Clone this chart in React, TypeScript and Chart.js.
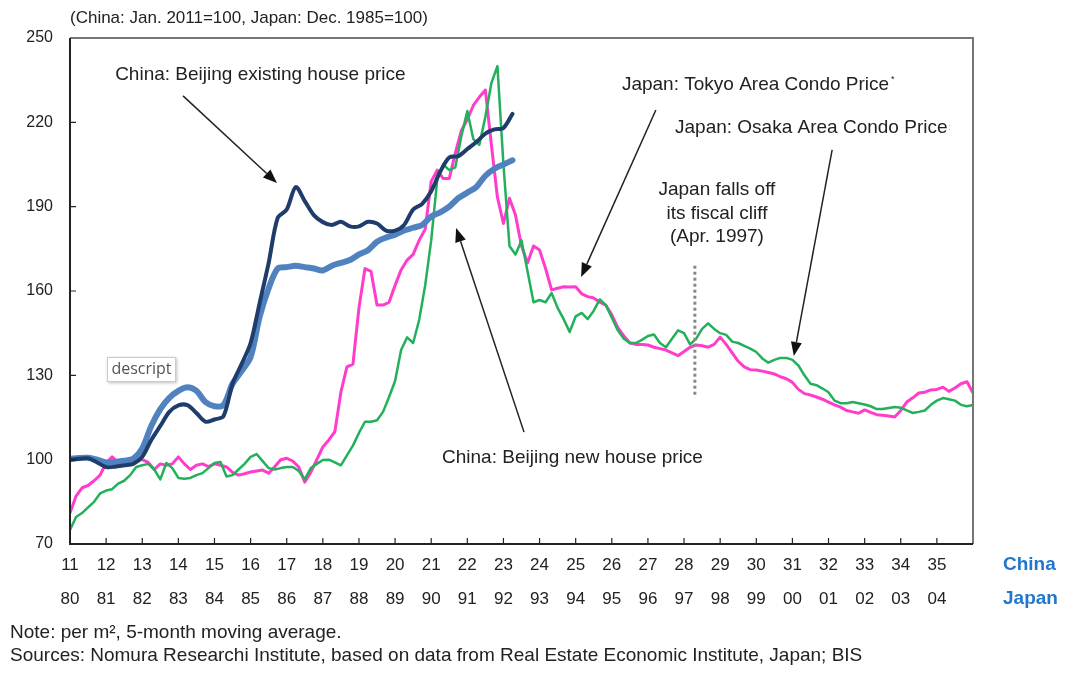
import React, { useEffect, useRef } from "react";
import { Chart, registerables } from "chart.js";
Chart.register(...registerables);

// ---------- data ----------
const chinaYearLabels = ["11","12","13","14","15","16","17","18","19","20","21","22","23","24","25","26","27","28","29","30","31","32","33","34","35"];
const japanYearLabels = ["80","81","82","83","84","85","86","87","88","89","90","91","92","93","94","95","96","97","98","99","00","01","02","03","04"];

// China series: quarterly from Jan 2011 (index 100 = Jan 2011)
const chinaStepYears = 0.25;
const beijingExisting = [
  100, 100.3, 100.5, 99, 97.4, 97.5, 98, 98.5, 101, 107,
  112, 117, 119.3, 119.4, 116.6, 113.5, 114.3, 115.5, 127, 134,
  141.5, 155.7, 170, 186, 189, 197, 192, 187, 184.5, 183.5,
  184.6, 183, 183, 184.6, 184, 181.5, 181.5, 183.5, 189, 191,
  195.5, 202.5, 207.5, 208, 210.5, 213, 216, 217.5, 218, 223,
];
const beijingNew = [
  100.3, 100.6, 100.7, 100, 99, 99.2, 99.6, 100.3, 104, 112,
  118, 122, 124.5, 125.8, 124.5, 120.5, 119, 119.5, 127, 131.5,
  136.5, 150.8, 161, 168, 168.5, 169, 168.5, 168, 167.3, 169,
  170, 171, 173, 174.5, 177.5, 179, 180, 181.5, 182.5, 183.5,
  186.5, 188, 190, 193, 195, 197, 201, 203.5, 205, 206.5,
];

// Japan series: bi-monthly from Jan 1980 (index 100 = Dec 1985)
const japanStepYears = 1 / 6;
const tokyoCondo = [
  81, 87, 90, 90.8, 92.5, 94.5, 98.8, 101, 99, 100,
  100, 100, 100, 99, 96.5, 98.5, 98, 98.5, 101, 98.5,
  96.5, 98, 98.5, 97.5, 98.5, 98, 97.4, 95.5, 94.5, 95,
  95.6, 96, 96.3, 95.2, 97.5, 100, 100.5, 99.5, 97.4, 92,
  95.5, 100, 104.5, 107, 110, 124, 133, 134, 154, 168,
  167, 155, 155, 156, 162, 167.5, 171, 173, 178, 182,
  199, 203, 200, 200, 209, 217, 221, 226, 229, 231.5,
  212, 193.4, 184, 193, 187, 176, 170, 176, 174.6, 168,
  160.4, 161, 161.5, 161.4, 161.5, 159, 158, 157.5, 156, 155,
  151.5, 147, 144, 141.5, 141, 141, 140.8, 140, 139.5, 139,
  138, 137, 138.5, 140, 140.8, 140.5, 140, 141, 143.6, 141,
  138, 135, 133, 132, 131.9, 131.5, 131, 130.5, 129.5, 128.8,
  127.5, 125, 123.5, 123, 122.3, 121.5, 120.5, 119.5, 118.7, 117.5,
  117, 116.5, 117.7, 116.8, 116, 115.8, 115.5, 115.2, 117.5, 120.5,
  122, 123.7, 124, 124.8, 125, 125.8, 124.3, 125.5, 127, 127.7, 123.7,
];
const osakaCondo = [
  75, 79.6, 81, 83, 85, 88, 89, 89.5, 91.5, 92.5,
  94.5, 97.4, 98, 98.5, 96.5, 93, 98.8, 97, 93.5, 93.2,
  93.5, 94.5, 95.2, 97, 98.8, 99.2, 94, 94.5, 96.5, 98.5,
  101, 102, 99.5, 97, 96.5, 97, 97.4, 97.4, 96, 93,
  97, 98.5, 99.9, 100, 99, 98, 101.5, 105, 109.5, 113.5,
  113.5, 114, 117, 122.3, 128, 139, 143.5, 141.5, 149.7, 162,
  178, 199.5, 205, 203, 204, 215, 224, 214, 212, 222,
  234, 240, 205, 176, 173, 178, 167, 156, 156.8, 156,
  159.3, 154, 150, 145.4, 151, 152.2, 150, 153, 157, 155,
  150.5, 146, 143, 141.5, 141.5, 142.6, 144, 144.5, 141.5, 140,
  143, 146, 145, 141, 143, 146.5, 148.5, 146.5, 145, 144.4,
  142, 141.5, 140.5, 139.5, 138.3, 136, 134.5, 135.5, 136.2, 136.2,
  135.5, 133.5, 130, 127, 126.5, 125.3, 124, 121, 120.1, 120.1,
  120.5, 120.1, 119.6, 119, 118, 118, 118.4, 118.7, 118.5, 117.5,
  116.6, 117, 117.5, 119.5, 121, 121.9, 121.5, 121, 119.5, 119, 119.5,
];

const yMin = 70;
const yMax = 250;
const yStep = 30;
const xYears = 25;
const fiscalCliffYear = 17.3; // Apr. 1997 on the Japan time axis
const fiscalCliffRange = [122, 169];

const FONT = "'Liberation Sans', Arial, sans-serif";
const NARROW = "'Liberation Sans Narrow', 'Arial Narrow', 'Liberation Sans', Arial, sans-serif";

const toPoints = (arr: number[], step: number) => arr.map((v, i) => ({ x: i * step, y: v }));

function drawArrow(ctx: CanvasRenderingContext2D, x1: number, y1: number, x2: number, y2: number) {
  const ang = Math.atan2(y2 - y1, x2 - x1);
  const hl = 14, hw = 5.5;
  const bx = x2 - hl * Math.cos(ang), by = y2 - hl * Math.sin(ang);
  ctx.beginPath();
  ctx.moveTo(x1, y1);
  ctx.lineTo(bx, by);
  ctx.stroke();
  ctx.beginPath();
  ctx.moveTo(x2, y2);
  ctx.lineTo(bx + hw * Math.sin(ang), by - hw * Math.cos(ang));
  ctx.lineTo(bx - hw * Math.sin(ang), by + hw * Math.cos(ang));
  ctx.closePath();
  ctx.fill();
}

const overlayPlugin = {
  id: "overlay",
  afterDatasetsDraw(chart: any) {
    const { ctx, scales } = chart;
    const X = (t: number) => scales.x.getPixelForValue(t);
    const Y = (v: number) => scales.y.getPixelForValue(v);
    ctx.save();
    ctx.strokeStyle = "#888";
    ctx.lineWidth = 3;
    ctx.setLineDash([3, 3]);
    ctx.beginPath();
    ctx.moveTo(X(fiscalCliffYear), Y(fiscalCliffRange[1]));
    ctx.lineTo(X(fiscalCliffYear), Y(fiscalCliffRange[0]));
    ctx.stroke();
    ctx.restore();
  },
  afterDraw(chart: any) {
    const { ctx, chartArea: a, scales } = chart;
    const X = (t: number) => scales.x.getPixelForValue(t);
    const Y = (v: number) => scales.y.getPixelForValue(v);
    ctx.save();
    // frame
    ctx.lineWidth = 2;
    ctx.strokeStyle = "#777";
    ctx.beginPath();
    ctx.moveTo(a.left, a.top);
    ctx.lineTo(a.right, a.top);
    ctx.lineTo(a.right, a.bottom);
    ctx.stroke();
    ctx.strokeStyle = "#222";
    ctx.beginPath();
    ctx.moveTo(a.left, a.top);
    ctx.lineTo(a.left, a.bottom);
    ctx.lineTo(a.right, a.bottom);
    ctx.stroke();
    // inward tick marks
    ctx.lineWidth = 1.2;
    ctx.beginPath();
    for (let v = yMin + yStep; v < yMax; v += yStep) {
      ctx.moveTo(a.left, Y(v));
      ctx.lineTo(a.left + 6, Y(v));
    }
    for (let t = 1; t < xYears; t++) {
      ctx.moveTo(X(t), a.bottom);
      ctx.lineTo(X(t), a.bottom - 6);
    }
    ctx.stroke();

    // annotations
    ctx.fillStyle = "#222";
    ctx.textBaseline = "middle";
    ctx.font = `19px ${FONT}`;
    ctx.textAlign = "left";
    ctx.fillText("China: Beijing existing house price", X(1.25), Y(236.8));
    ctx.fillText("Japan: Tokyo Area Condo Price", X(15.28), Y(233.3));
    const wT = ctx.measureText("Japan: Tokyo Area Condo Price").width;
    ctx.fillText("Japan: Osaka Area Condo Price", X(16.75), Y(218));
    const wO = ctx.measureText("Japan: Osaka Area Condo Price").width;
    ctx.fillText("China: Beijing new house price", X(10.3), Y(100.6));
    ctx.textAlign = "center";
    ctx.fillText("Japan falls off", X(17.91), Y(195.9));
    ctx.fillText("its fiscal cliff", X(17.91), Y(187.6));
    ctx.fillText("(Apr. 1997)", X(17.91), Y(179.2));
    ctx.textAlign = "left";
    ctx.font = `9px ${FONT}`;
    ctx.fillText("*", X(15.28) + wT + 2, Y(235.3));
    ctx.fillStyle = "#999";
    ctx.fillText(":", X(16.75) + wO + 1, Y(218.3));

    // arrows
    ctx.fillStyle = "#111";
    ctx.strokeStyle = "#222";
    ctx.lineWidth = 1.5;
    drawArrow(ctx, X(3.13), Y(229.4), X(5.73), Y(198.4));
    drawArrow(ctx, X(12.57), Y(109.8), X(10.69), Y(182.4));
    drawArrow(ctx, X(16.22), Y(224.4), X(14.15), Y(165.0));
    drawArrow(ctx, X(21.1), Y(210.2), X(20.04), Y(136.9));

    // title
    ctx.fillStyle = "#222";
    ctx.font = `17px ${FONT}`;
    ctx.textAlign = "left";
    ctx.fillText("(China: Jan. 2011=100, Japan: Dec. 1985=100)", a.left, 18);

    // axis row names
    ctx.fillStyle = "#2277cc";
    ctx.font = `bold 19px ${NARROW}`;
    ctx.fillText("China", 1003, 565);
    ctx.fillText("Japan", 1003, 599);

    // notes
    ctx.fillStyle = "#222";
    ctx.font = `19px ${NARROW}`;
    ctx.fillText("Note: per m\u00B2, 5-month moving average.", 10, 633);
    ctx.fillText("Sources: Nomura Researchi Institute, based on data from Real Estate Economic Institute, Japan; BIS", 10, 656);

    // stray "descript" label box
    ctx.shadowColor = "rgba(0,0,0,0.25)";
    ctx.shadowBlur = 3;
    ctx.shadowOffsetX = 1;
    ctx.shadowOffsetY = 1;
    ctx.fillStyle = "#fff";
    ctx.fillRect(107, 357, 69, 25);
    ctx.shadowColor = "transparent";
    ctx.strokeStyle = "#ccc";
    ctx.lineWidth = 1;
    ctx.strokeRect(107.5, 357.5, 68, 24);
    ctx.fillStyle = "#555";
    ctx.font = `16px 'Open Sans', 'Noto Sans', sans-serif`;
    ctx.textAlign = "center";
    ctx.fillText("descript", 141.5, 369.5);
    ctx.restore();
  },
};

export default function App() {
  const ref = useRef<HTMLCanvasElement | null>(null);
  useEffect(() => {
    if (!ref.current) return;
    const chart = new Chart(ref.current, {
      type: "line",
      data: {
        datasets: [
          {
            label: "China: Beijing existing house price",
            data: toPoints(beijingExisting, chinaStepYears),
            borderColor: "#1f3d6b",
            borderWidth: 4,
            pointRadius: 0,
            tension: 0.3,
            borderJoinStyle: "round",
            borderCapStyle: "round",
          },
          {
            label: "China: Beijing new house price",
            data: toPoints(beijingNew, chinaStepYears),
            borderColor: "#5182c0",
            borderWidth: 6,
            pointRadius: 0,
            tension: 0.3,
            borderJoinStyle: "round",
            borderCapStyle: "round",
          },
          {
            label: "Japan: Osaka Area Condo Price",
            data: toPoints(osakaCondo, japanStepYears),
            borderColor: "#22b05a",
            borderWidth: 2.5,
            pointRadius: 0,
            tension: 0,
            borderJoinStyle: "round",
          },
          {
            label: "Japan: Tokyo Area Condo Price",
            data: toPoints(tokyoCondo, japanStepYears),
            borderColor: "#ff3ccb",
            borderWidth: 3,
            pointRadius: 0,
            tension: 0,
            borderJoinStyle: "round",
          },
        ],
      },
      options: {
        animation: false,
        responsive: false,
        devicePixelRatio: 1,
        layout: { padding: { left: 8, top: 38, right: 107, bottom: 71 } },
        plugins: { legend: { display: false }, tooltip: { enabled: false } },
        scales: {
          x: {
            type: "linear",
            min: 0,
            max: xYears,
            afterFit: (s: any) => { s.height = 70; },
            grid: { display: false, drawTicks: false },
            border: { display: false },
            ticks: {
              stepSize: 1,
              autoSkip: false,
              maxRotation: 0,
              padding: 4,
              color: "#222",
              font: { family: NARROW, size: 17, lineHeight: 2 },
              callback: (v: any) => {
                const i = Math.round(Number(v));
                return i < chinaYearLabels.length ? [chinaYearLabels[i], japanYearLabels[i]] : "";
              },
            },
          },
          y: {
            min: yMin,
            max: yMax,
            afterFit: (s: any) => { s.width = 62; },
            grid: { display: false, drawTicks: false },
            border: { display: false },
            ticks: { stepSize: yStep, padding: 17, color: "#222", font: { family: FONT, size: 16 } },
          },
        },
      },
      plugins: [overlayPlugin],
    } as any);
    return () => chart.destroy();
  }, []);
  return (
    <div style={{ position: "fixed", left: 0, top: 0, width: 1080, height: 685, background: "#fff" }}>
      <canvas ref={ref} width={1080} height={685} style={{ width: 1080, height: 685, display: "block" }} />
    </div>
  );
}
